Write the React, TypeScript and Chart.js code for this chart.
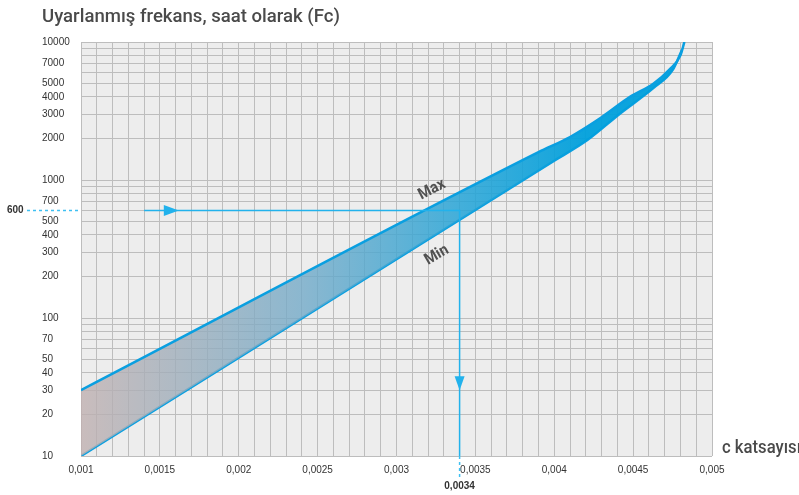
import React, { useEffect, useRef } from 'react';
import { Chart, registerables } from 'chart.js';

Chart.register(...registerables);

const titleText = 'Uyarlanmış frekans, saat olarak (Fc)';
const xAxisTitle = 'c katsayısı';
const maxLabel = 'Max';
const minLabel = 'Min';

// Max curve (upper boundary)
const maxX = [0.001, 0.0039, 0.0041, 0.0043, 0.00448, 0.00463, 0.00473, 0.0048, 0.004825];
const maxY = [30, 1590, 2050, 2850, 4000, 5000, 6300, 8000, 10000];
// Min curve (lower boundary)
const minX = [0.001, 0.004, 0.00421, 0.00442, 0.00463, 0.00475, 0.00481];
const minY = [10, 1380, 1950, 3050, 4650, 6250, 8800];

const yTickLabels = [10, 20, 30, 40, 50, 70, 100, 200, 300, 400, 500, 700, 1000, 2000, 3000, 4000, 5000, 7000, 10000];
const yGridMultipliers = [1, 2, 3, 4, 5, 6, 7, 8, 9];
const yDecades = [10, 100, 1000];
const xTickValues = [0.001, 0.0015, 0.002, 0.0025, 0.003, 0.0035, 0.004, 0.0045, 0.005];
const xTickLabels = ['0,001', '0,0015', '0,002', '0,0025', '0,003', '0,0035', '0,004', '0,0045', '0,005'];
const xMin = 0.001;
const xMax = 0.005;
const xGridStep = 0.0001;

const markerX = 0.0034;
const markerY = 600;
const markerXLabel = '0,0034';
const markerYLabel = '600';
const hLineStartX = 0.0014;
const rightArrowTipX = 0.00162;
const downArrowTipY = 30;
const maxLabelPos = { x: 0.003225, y: 850 };
const minLabelPos = { x: 0.003255, y: 285 };

const BLUE = '#0a9fe0';
const MARK = '#22b2ec';

const App = () => {
  const ref = useRef<HTMLCanvasElement | null>(null);
  useEffect(() => {
    const canvas = ref.current;
    if (!canvas) return;

    const yGrid: number[] = [];
    yDecades.forEach((d) => yGridMultipliers.forEach((m) => yGrid.push(d * m)));
    yGrid.push(10000);
    const xGrid: number[] = [];
    for (let i = 0; i <= Math.round((xMax - xMin) / xGridStep); i++) xGrid.push(+(xMin + i * xGridStep).toFixed(5));

    const fitText = (ctx: any, text: string, x: number, y: number, width: number) => {
      const w = ctx.measureText(text).width;
      ctx.save();
      ctx.translate(x, y);
      ctx.scale(width / w, 1);
      ctx.fillText(text, 0, 0);
      ctx.restore();
    };

    const annot = {
      id: 'annot',
      beforeDraw(chart: any) {
        const { ctx, chartArea: a } = chart;
        ctx.save();
        ctx.fillStyle = '#ededed';
        ctx.fillRect(a.left, a.top, a.right - a.left, a.bottom - a.top);
        ctx.restore();
      },
      afterDatasetsDraw(chart: any) {
        const { ctx, chartArea: a } = chart;
        const xs = chart.scales.x;
        const ys = chart.scales.y;
        const px = xs.getPixelForValue(markerX);
        const py = ys.getPixelForValue(markerY);
        const sx = xs.getPixelForValue(hLineStartX);
        ctx.save();
        ctx.strokeStyle = MARK;
        ctx.fillStyle = MARK;
        ctx.lineWidth = 1.5;
        ctx.beginPath();
        ctx.moveTo(sx, py);
        ctx.lineTo(px, py);
        ctx.lineTo(px, a.bottom);
        ctx.stroke();
        const tx = xs.getPixelForValue(rightArrowTipX);
        ctx.beginPath();
        ctx.moveTo(tx, py);
        ctx.lineTo(tx - 15, py - 5.5);
        ctx.lineTo(tx - 15, py + 5.5);
        ctx.closePath();
        ctx.fill();
        const ty = ys.getPixelForValue(downArrowTipY);
        ctx.beginPath();
        ctx.moveTo(px, ty);
        ctx.lineTo(px - 5, ty - 14);
        ctx.lineTo(px + 5, ty - 14);
        ctx.closePath();
        ctx.fill();

        ctx.fillStyle = '#505050';
        ctx.font = 'bold 16px Roboto';
        ctx.textAlign = 'center';
        ctx.textBaseline = 'middle';
        ctx.save();
        ctx.translate(xs.getPixelForValue(maxLabelPos.x), ys.getPixelForValue(maxLabelPos.y));
        ctx.rotate((-27 * Math.PI) / 180);
        ctx.scale(0.92, 1);
        ctx.fillText(maxLabel, 0, 0);
        ctx.restore();
        ctx.save();
        ctx.translate(xs.getPixelForValue(minLabelPos.x), ys.getPixelForValue(minLabelPos.y));
        ctx.rotate((-30 * Math.PI) / 180);
        ctx.scale(0.92, 1);
        ctx.fillText(minLabel, 0, 0);
        ctx.restore();
        ctx.restore();
      },
      afterDraw(chart: any) {
        const { ctx, chartArea: a } = chart;
        const xs = chart.scales.x;
        const ys = chart.scales.y;
        const px = xs.getPixelForValue(markerX);
        const py = ys.getPixelForValue(markerY);
        ctx.save();
        ctx.strokeStyle = '#3fc0f2';
        ctx.lineWidth = 1.5;
        ctx.setLineDash([3, 3]);
        ctx.beginPath();
        ctx.moveTo(27, py);
        ctx.lineTo(a.left, py);
        ctx.moveTo(px, a.bottom);
        ctx.lineTo(px, a.bottom + 22);
        ctx.stroke();
        ctx.setLineDash([]);
        ctx.fillStyle = '#333333';
        ctx.font = 'bold 10px "Liberation Sans"';
        ctx.textBaseline = 'middle';
        ctx.textAlign = 'left';
        ctx.fillText(markerYLabel, 7, py);
        ctx.textAlign = 'center';
        ctx.textBaseline = 'alphabetic';
        ctx.fillText(markerXLabel, px, 489);

        ctx.fillStyle = '#4a4a4a';
        ctx.font = '500 18px Roboto';
        ctx.textAlign = 'left';
        fitText(ctx, titleText, 42, 22, 298);
        fitText(ctx, xAxisTitle, 722, 453, 79);
        ctx.restore();
      },
    };

    const chart = new Chart(canvas, {
      type: 'line',
      data: {
        datasets: [
          {
            label: 'Max',
            data: maxX.map((x, i) => ({ x, y: maxY[i] })),
            borderColor: BLUE,
            borderWidth: 2.5,
            pointRadius: 0,
            cubicInterpolationMode: 'monotone',
            fill: '+1',
            backgroundColor: (c: any) => {
              const area = c.chart.chartArea;
              if (!area) return 'rgba(0,160,220,0.8)';
              const g = c.chart.ctx.createLinearGradient(area.left, 0, area.right, 0);
              g.addColorStop(0, 'rgba(192,176,176,0.8)');
              g.addColorStop(0.35, 'rgba(115,170,200,0.8)');
              g.addColorStop(0.6, 'rgba(40,165,215,0.86)');
              g.addColorStop(0.8, 'rgba(0,160,220,0.95)');
              g.addColorStop(1, 'rgba(0,160,220,0.95)');
              return g;
            },
          } as any,
          {
            label: 'Min',
            data: minX.map((x, i) => ({ x, y: minY[i] })),
            borderColor: BLUE,
            borderWidth: 2.5,
            pointRadius: 0,
            cubicInterpolationMode: 'monotone',
            fill: false,
          } as any,
        ],
      },
      options: {
        animation: false,
        responsive: false,
        devicePixelRatio: 1,
        layout: { padding: { left: 42, right: 87, top: 42, bottom: 0 } },
        plugins: { legend: { display: false }, tooltip: { enabled: false }, title: { display: false } },
        scales: {
          x: {
            type: 'linear',
            min: xMin,
            max: xMax,
            border: { display: false },
            grid: { color: '#bdbdbd', lineWidth: 1, drawTicks: false },
            afterBuildTicks: (s: any) => {
              s.ticks = xGrid.map((v) => ({ value: v }));
            },
            afterFit: (s: any) => {
              s.height = 39;
            },
            ticks: {
              autoSkip: false,
              maxRotation: 0,
              padding: 8,
              color: '#333333',
              font: { family: '"Liberation Sans"', size: 10 },
              callback: (v: any) => {
                const i = xTickValues.findIndex((t) => Math.abs(t - v) < 1e-8);
                return i >= 0 ? xTickLabels[i] : '';
              },
            },
          },
          y: {
            type: 'logarithmic',
            min: 10,
            max: 10000,
            border: { display: false },
            grid: { color: '#bdbdbd', lineWidth: 1, drawTicks: false },
            afterBuildTicks: (s: any) => {
              s.ticks = yGrid.map((v) => ({ value: v }));
            },
            afterFit: (s: any) => {
              s.width = 39;
            },
            ticks: {
              autoSkip: false,
              crossAlign: 'far',
              padding: 8,
              color: '#333333',
              font: { family: '"Liberation Sans"', size: 10 },
              callback: (v: any) => (yTickLabels.includes(Number(v)) ? String(v) : ''),
            },
          },
        },
      },
      plugins: [annot],
    } as any);
    return () => chart.destroy();
  }, []);

  return (
    <div style={{ position: 'absolute', left: 0, top: 0, width: 799, height: 495, background: '#ffffff' }}>
      <canvas ref={ref} width={799} height={495} style={{ width: 799, height: 495, display: 'block' }} />
    </div>
  );
};

export default App;
